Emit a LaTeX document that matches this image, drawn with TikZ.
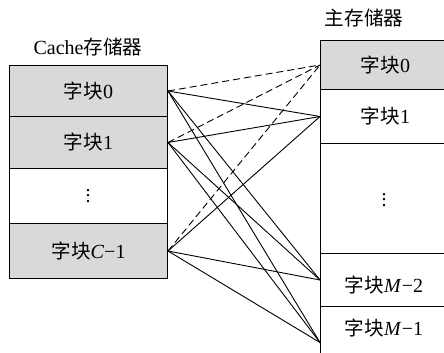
\documentclass[tikz,border=0pt]{standalone}
\usepackage{fontspec}
\setmainfont{Liberation Serif}
\newfontfamily\cjk[Scale=0.98]{Noto Sans CJK SC}
\newcommand\zk{{\cjk 字块}}
\newcommand\myvdots{\vbox{\baselineskip=5.5pt\lineskiplimit=0pt\hbox{.}\hbox{.}\hbox{.}}}
\begin{document}
\begin{tikzpicture}[x=1pt,y=-1pt,
  every node/.style={font=\fontsize{20}{24}\selectfont, inner sep=0pt},
  graybox/.style={draw=black, line width=1pt, fill=black!15},
  whitebox/.style={draw=black, line width=1pt, fill=white},
  link/.style={line width=0.9pt},
  dlink/.style={line width=0.9pt, dash pattern=on 7pt off 4pt}]
\useasboundingbox (0,0) rectangle (444,353);
% cache
\node[graybox, minimum width=158pt, minimum height=51pt, anchor=north west] (c0) at (9,65) {\zk0};
\node[graybox, minimum width=158pt, minimum height=52pt, anchor=north west] (c1) at (9,116) {\zk1};
\node[whitebox, minimum width=158pt, minimum height=55pt, anchor=north west] (cd) at (9,168) {};
\node (cdt) at (88,196) {\myvdots};
\node[graybox, minimum width=158pt, minimum height=55pt, anchor=north west] (cc) at (9,223) {\zk\textit{C}−1};
\node (ct) at (88,47) {Cache{\cjk 存储器}};
% main memory
\node[graybox, minimum width=130pt, minimum height=49pt, anchor=north west] (m0) at (320,40) {\zk0};
\node[whitebox, minimum width=130pt, minimum height=54pt, anchor=north west] (m1) at (320,89) {\zk1};
\node[whitebox, minimum width=130pt, minimum height=110pt, anchor=north west] (md) at (320,143) {};
\node (mdt) at (384,200) {\myvdots};
\node[whitebox, minimum width=130pt, minimum height=53pt, anchor=north west] (mm2) at (320,253) {};
\node[whitebox, minimum width=130pt, minimum height=60pt, anchor=north west] (mm1) at (320,306) {};
\node (mm2t) at (384,285) {\zk\textit{M}−2};
\node (mm1t) at (384,328) {\zk\textit{M}−1};
\node (mt) at (364,18) {{\cjk 主存储器}};
% links
\draw[dlink] (c0.east) -- (m0.west);
\draw[dlink] (c1.east) -- (m0.west);
\draw[dlink] (cc.east) -- (m0.west);
\foreach \c in {c0,c1,cc}{
  \draw[link] (\c.east) -- (m1.west);
  \draw[link] (\c.east) -- (mm2.west);
  \draw[link] (\c.east) -- ([yshift=-6pt]mm1.west);
}
\end{tikzpicture}
\end{document}
